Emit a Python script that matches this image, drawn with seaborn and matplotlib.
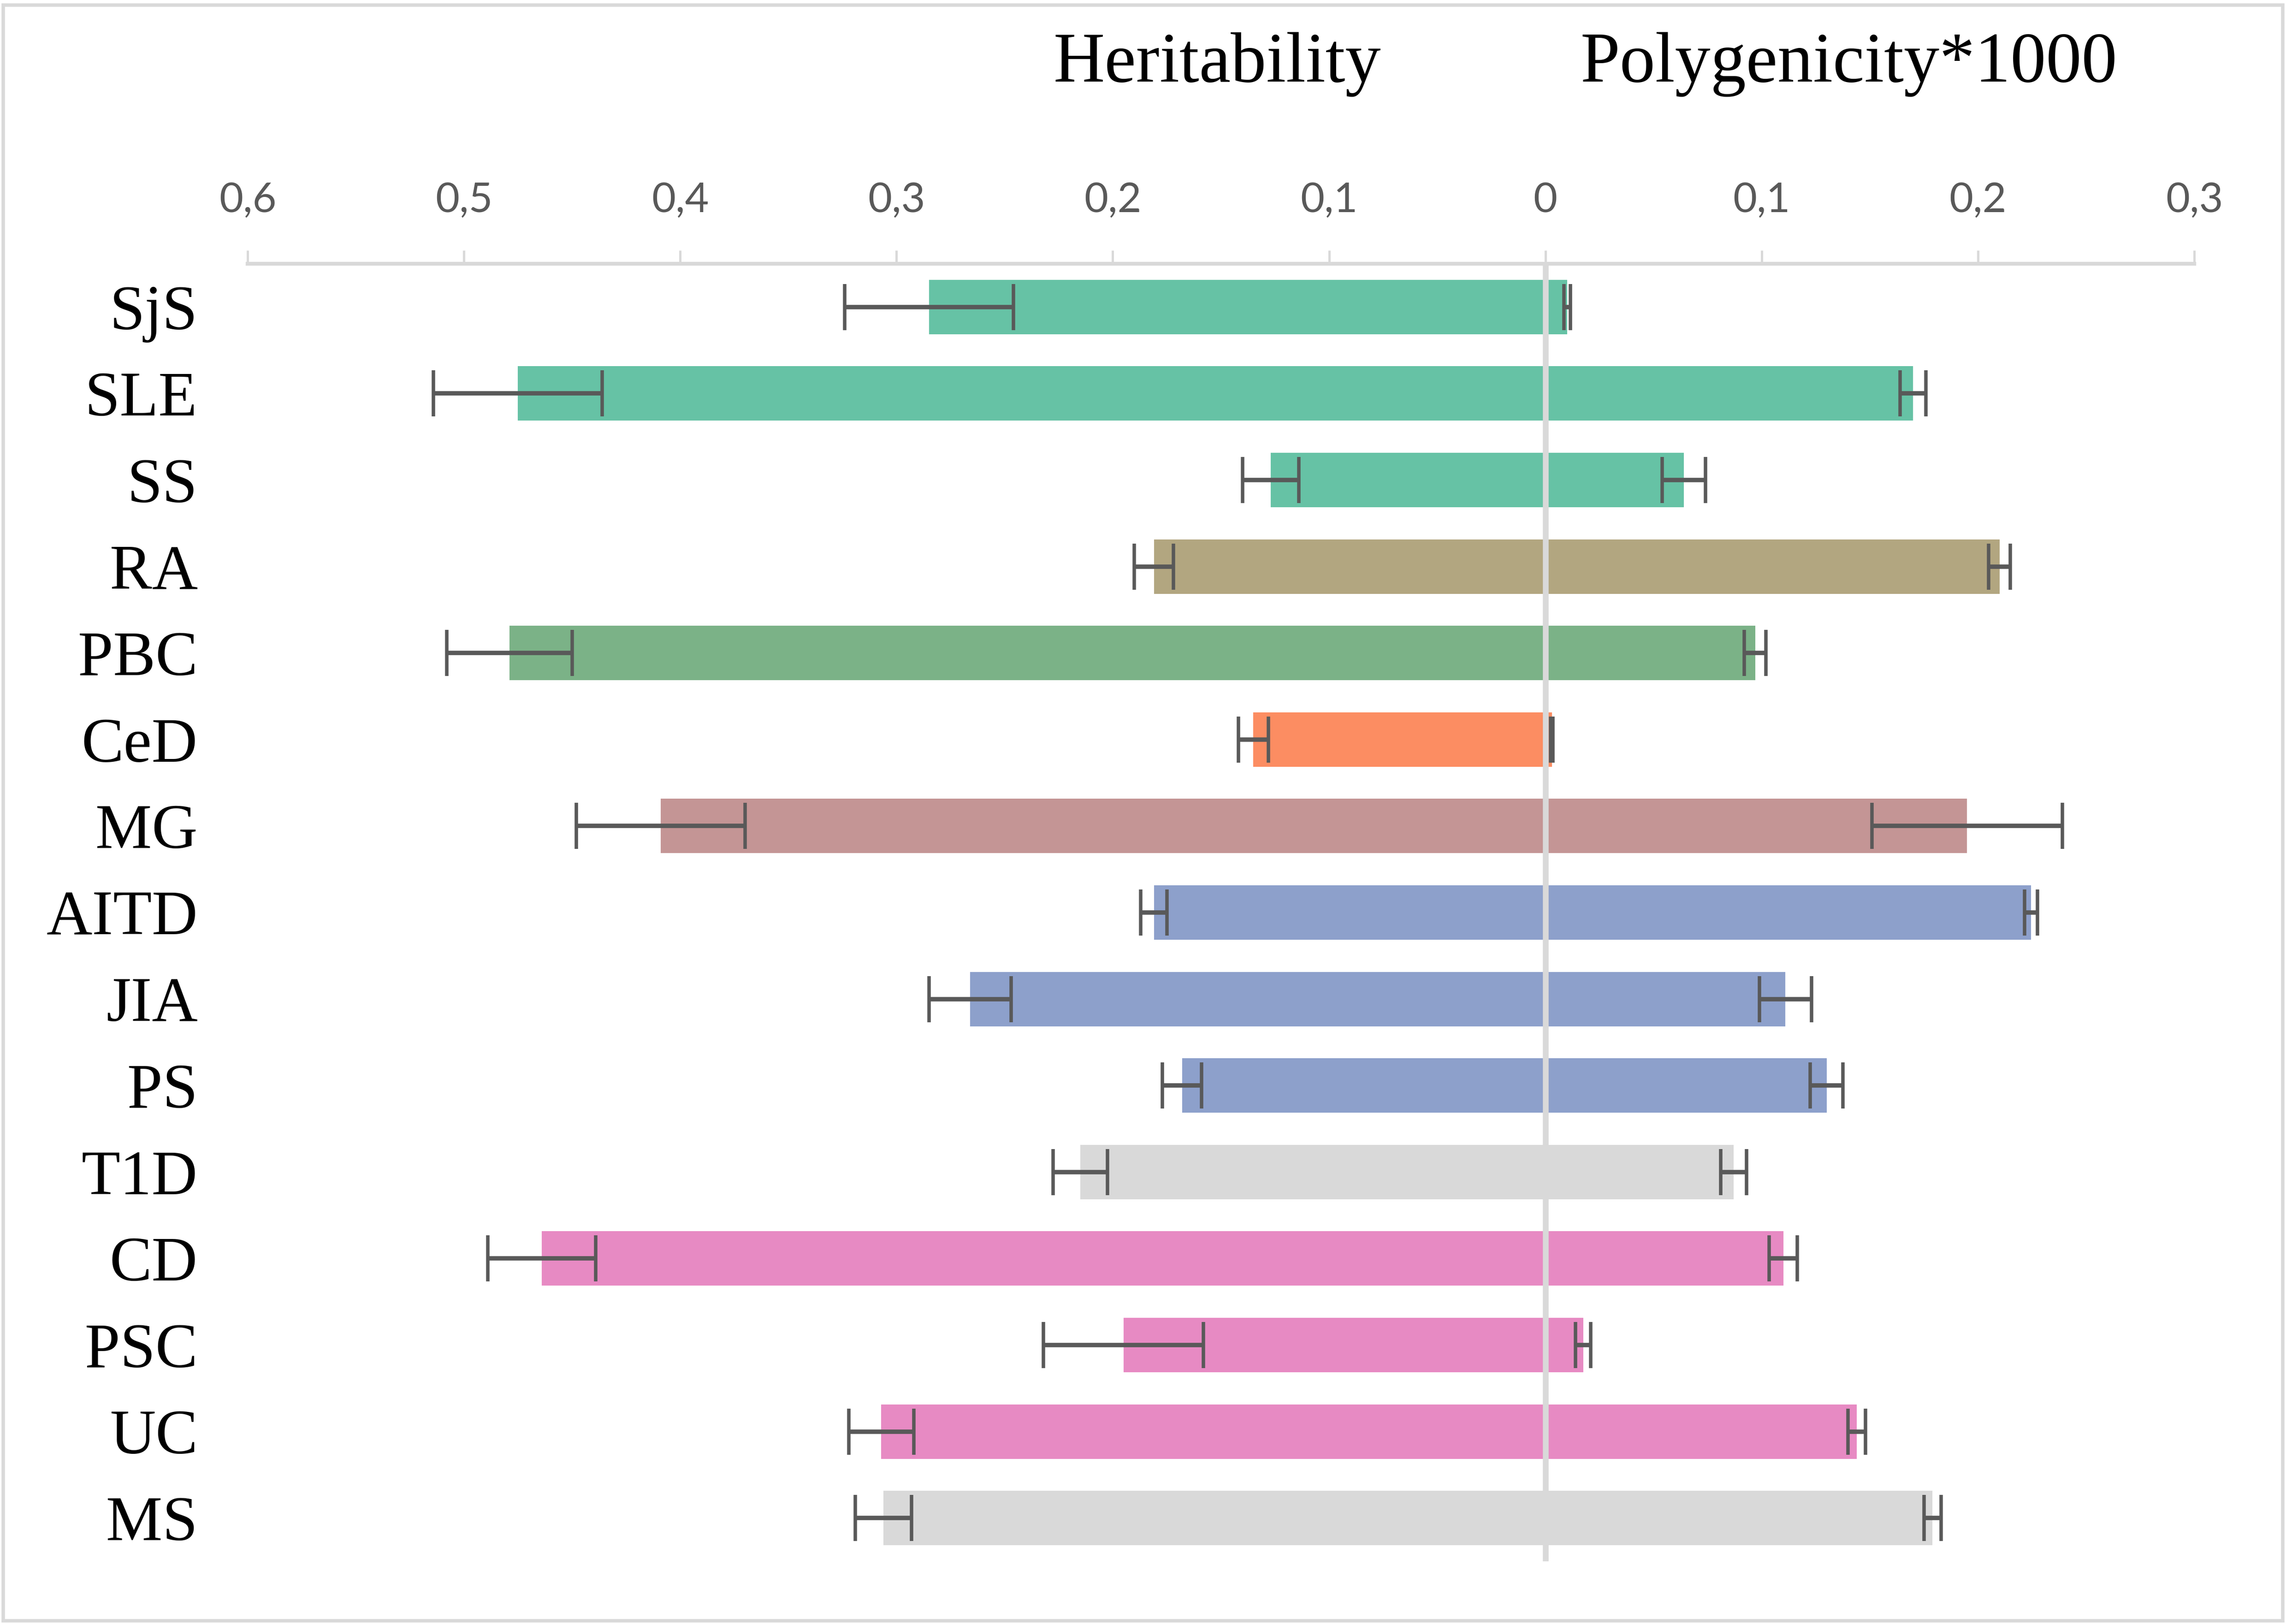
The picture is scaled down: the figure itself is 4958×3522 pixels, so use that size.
import matplotlib
matplotlib.use("Agg")
import matplotlib.pyplot as plt
import seaborn as sns
import pandas as pd
import numpy as np
from matplotlib.patches import Rectangle

diseases = ["SjS", "SLE", "SS", "RA", "PBC", "CeD", "MG", "AITD", "JIA", "PS",
            "T1D", "CD", "PSC", "UC", "MS"]
heritability = [0.285, 0.475, 0.127, 0.181, 0.479, 0.135, 0.409, 0.181, 0.266, 0.168,
                0.215, 0.464, 0.195, 0.307, 0.306]
herit_err = [0.039, 0.039, 0.013, 0.009, 0.029, 0.007, 0.039, 0.006, 0.019, 0.009,
             0.0125, 0.025, 0.037, 0.015, 0.013]
polygenicity = [0.010, 0.170, 0.064, 0.210, 0.097, 0.003, 0.195, 0.2245, 0.111, 0.130,
                0.087, 0.110, 0.0175, 0.144, 0.179]
poly_err = [0.0015, 0.006, 0.010, 0.005, 0.005, 0.0005, 0.044, 0.003, 0.012, 0.0075,
            0.006, 0.0065, 0.0035, 0.004, 0.004]
bar_colors = ["#66c2a5", "#66c2a5", "#66c2a5", "#b2a680", "#7bb287", "#fc8d62",
              "#c49595", "#8da0cb", "#8da0cb", "#8da0cb", "#d9d9d9", "#e78ac3",
              "#e78ac3", "#e78ac3", "#d9d9d9"]
tick_values = [-0.6, -0.5, -0.4, -0.3, -0.2, -0.1, 0.0, 0.1, 0.2, 0.3]
tick_labels = ["0,6", "0,5", "0,4", "0,3", "0,2", "0,1", "0", "0,1", "0,2", "0,3"]
left_title = "Heritability"
right_title = "Polygenicity*1000"

df_h = pd.DataFrame({"disease": diseases, "value": [-v for v in heritability]})
df_p = pd.DataFrame({"disease": diseases, "value": polygenicity})
palette = dict(zip(diseases, bar_colors))

sns.set_theme(style="white")
plt.rcParams["font.family"] = ["Liberation Serif", "DejaVu Serif"]

fig = plt.figure(figsize=(4958 / 300, 3522 / 300), dpi=300)
ax = fig.add_axes([537 / 4958, 1 - 3386 / 3522, (4759 - 537) / 4958, (3386 - 572) / 3522])

for d in (df_h, df_p):
    sns.barplot(data=d, y="disease", x="value", hue="disease", palette=palette,
                order=diseases, hue_order=diseases, orient="h", width=0.63,
                errorbar=None, legend=False, ax=ax, linewidth=0, saturation=1,
                zorder=2)

ypos = np.arange(len(diseases))
ax.axvline(0, color="#d9d9d9", lw=3.0, zorder=3)
ax.errorbar(x=[-v for v in heritability], y=ypos, xerr=herit_err, fmt="none",
            ecolor="#595959", elinewidth=2.3, capsize=12, capthick=1.8, zorder=4)
ax.errorbar(x=polygenicity, y=ypos, xerr=poly_err, fmt="none",
            ecolor="#595959", elinewidth=2.3, capsize=12, capthick=1.8, zorder=4)

ax.set_xlim(-0.6, 0.3)
ax.set_ylim(len(diseases) - 0.5, -0.5)
ax.xaxis.tick_top()
ax.set_xticks(tick_values)
ax.set_xticklabels(tick_labels, fontfamily=["Lato", "DejaVu Sans"], fontsize=21.5,
                   color="#595959")
ax.tick_params(axis="x", which="major", top=True, bottom=False, direction="out",
               length=7, width=1.2, color="#d9d9d9", pad=16)
ax.set_yticks(ypos)
ax.set_yticklabels(diseases, fontfamily=["Liberation Serif", "DejaVu Serif"],
                   fontsize=33, color="black")
ax.tick_params(axis="y", length=0, pad=26)
ax.set_xlabel("")
ax.set_ylabel("")
for s in ("left", "right", "bottom"):
    ax.spines[s].set_visible(False)
ax.spines["top"].set_color("#d9d9d9")
ax.spines["top"].set_linewidth(2.0)
ax.grid(False)

fig.text(2640 / 4958, 1 - 140 / 3522, left_title, ha="center", va="center",
         fontsize=37, fontfamily=["Liberation Serif", "DejaVu Serif"], color="black")
fig.text(4010 / 4958, 1 - 140 / 3522, right_title, ha="center", va="center",
         fontsize=37, fontfamily=["Liberation Serif", "DejaVu Serif"], color="black")

fig.patches.append(Rectangle((0.0015, 0.002), 0.997, 0.995, transform=fig.transFigure,
                             fill=False, edgecolor="#d9d9d9", linewidth=1.8))

fig.savefig("out.png", dpi=300)
